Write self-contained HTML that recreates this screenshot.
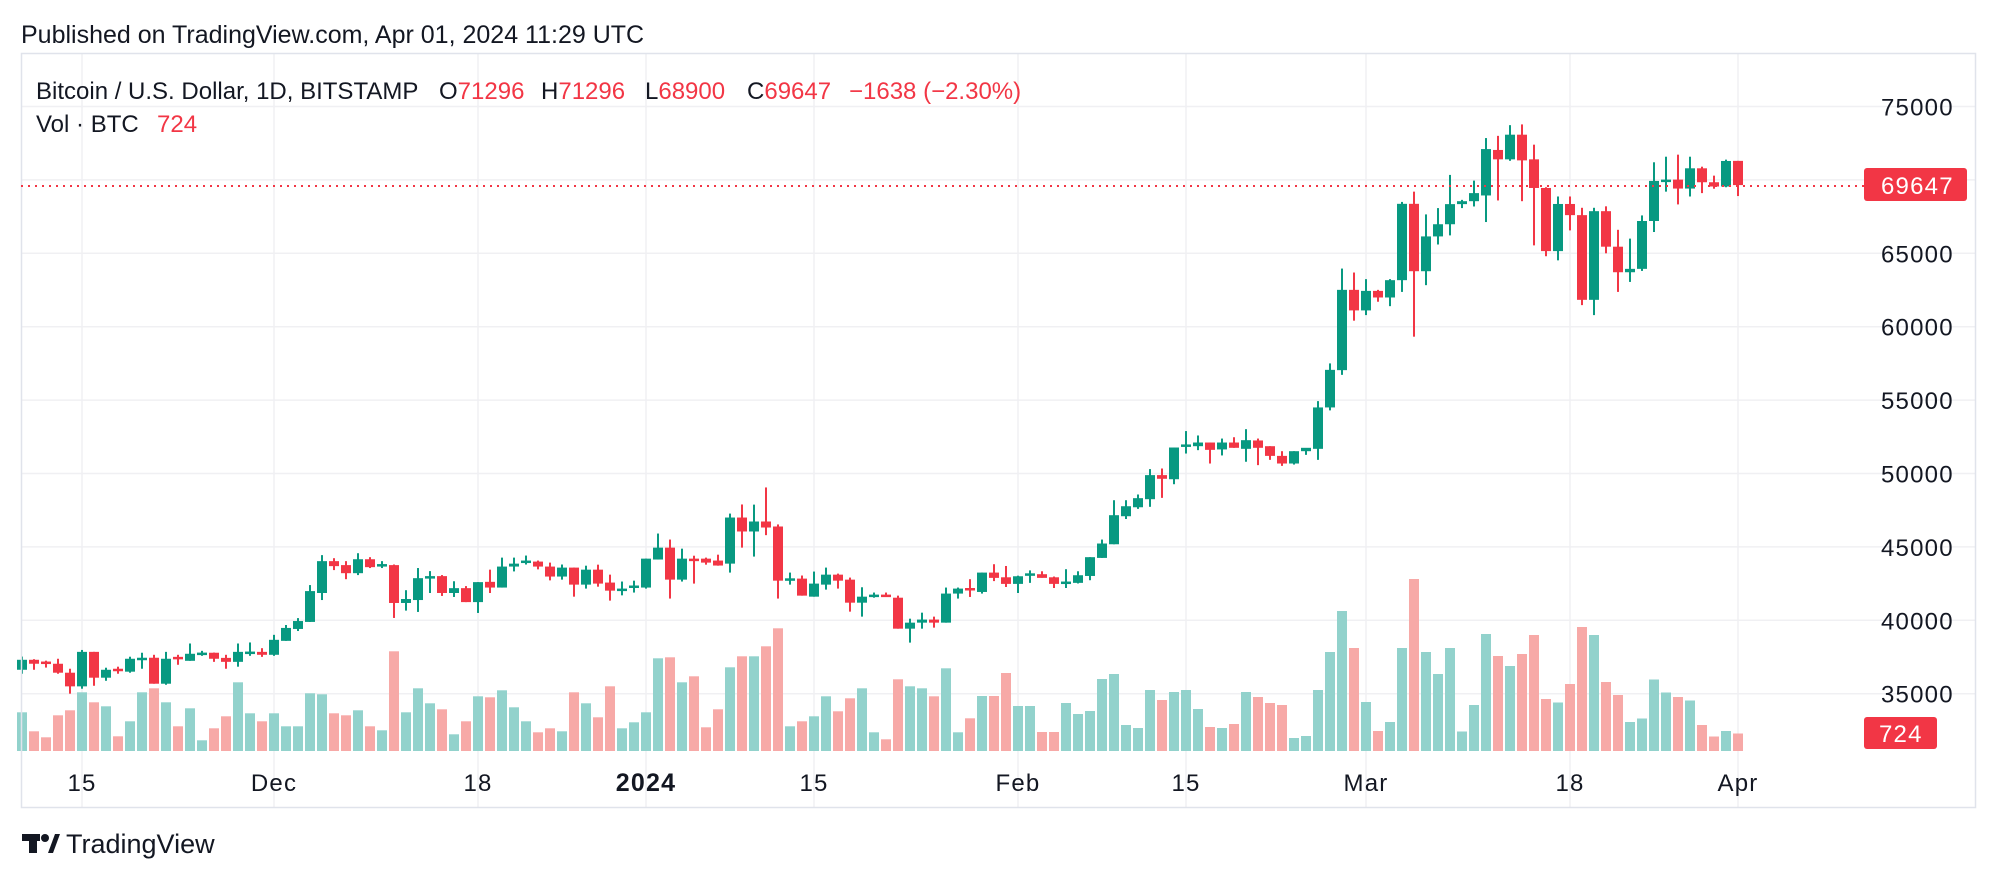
<!DOCTYPE html>
<html><head><meta charset="utf-8">
<style>
html,body{margin:0;padding:0;background:#fff;}
body{width:1996px;height:878px;overflow:hidden;font-family:"Liberation Sans",Arial,sans-serif;}
svg text{font-family:"Liberation Sans",Arial,sans-serif;}
</style></head>
<body>
<svg id="c" width="1996" height="878" viewBox="0 0 1996 878" xmlns="http://www.w3.org/2000/svg">
<rect width="1996" height="878" fill="#fff"/>
<text x="21" y="43" font-size="25" fill="#131722">Published on TradingView.com, Apr 01, 2024 11:29 UTC</text>
<g id="grid"></g>
<g id="vol"></g>
<g id="cand"></g>
<rect x="21.5" y="53.5" width="1954" height="754" fill="none" stroke="#e0e3eb" stroke-width="1.5"/>
<line x1="21" y1="186" x2="1864" y2="186" stroke="#F23645" stroke-width="2" stroke-dasharray="2,5"/>
<g font-size="24" fill="#131722">
<text x="36" y="99">Bitcoin / U.S. Dollar, 1D, BITSTAMP</text>
<text x="439" y="99">O<tspan fill="#F23645">71296</tspan></text>
<text x="541" y="99">H<tspan fill="#F23645">71296</tspan></text>
<text x="645" y="99">L<tspan fill="#F23645">68900</tspan></text>
<text x="747" y="99">C<tspan fill="#F23645">69647</tspan></text>
<text x="849" y="99" fill="#F23645">−1638 (−2.30%)</text>
<text x="36" y="132">Vol · BTC</text>
<text x="157" y="132" fill="#F23645">724</text>
</g>
<g id="axis" font-size="24" fill="#131722" letter-spacing="1.2"></g>
<rect x="1864" y="168" width="103" height="33" rx="3" fill="#F23645"/>
<text x="1881" y="194" font-size="24" fill="#fff" letter-spacing="1.2">69647</text>
<rect x="1864" y="717" width="73" height="32" rx="3" fill="#F23645"/>
<text x="1879" y="742" font-size="24" fill="#fff" letter-spacing="1.2">724</text>
<g fill="#131722">
<rect x="22" y="834" width="18" height="7"/>
<rect x="29" y="834" width="8" height="19"/>
<circle cx="45" cy="838" r="4"/>
<polygon points="48,853 55,834 60,834 53,853"/>
</g>
<text x="66" y="853" font-size="27" fill="#131722">TradingView</text>
</svg>
<script>
var D=[
[36630,37530,36360,37310,38.7],[37310,37350,36630,37040,19.7],[37190,37250,36780,37040,13.7],[37040,37380,36360,36430,35.7],[36430,36700,35000,35500,40.7],
[35500,37980,35340,37850,58.7],[37850,37850,35540,36090,48.7],[36090,36770,35880,36630,44.7],[36700,36840,36360,36570,14.7],[36500,37520,36430,37380,29.7],
[37400,37790,36700,37450,58.7],[37450,37650,35680,35680,62.7],[35680,37850,35610,37380,48.7],[37510,37650,36970,37440,24.7],[37240,38420,37240,37720,42.7],
[37760,37920,37580,37800,10.7],[37790,37800,37170,37380,22.7],[37440,37650,36700,37170,34.7],[37170,38420,36840,37850,68.7],[37840,38490,37580,37870,37.7],
[37850,38100,37510,37650,29.7],
[37650,39010,37580,38670,37.7],[38600,39680,38600,39480,24.7],[39410,40150,39270,39950,24.7],[39890,42400,39890,41990,57.7],[41860,44440,41380,44030,56.7],
[44030,44230,43420,43690,37.7],[43760,44030,42800,43210,35.7],[43210,44570,43080,44160,40.7],[44160,44300,43560,43620,24.7],[43760,44030,43560,43830,20.7],
[43760,43800,40160,41180,99.7],[41180,42050,40660,41450,38.7],[41380,43560,40570,42870,62.7],[42950,43350,41860,43010,47.7],[43010,43080,41660,41860,41.7],
[41860,42660,41590,42190,16.7],[42190,42330,41240,41240,29.7],[41240,42600,40500,42600,54.7],[42620,43450,41860,42230,53.7],[42230,44270,42230,43660,60.7],
[43660,44270,43330,43860,43.7],[44000,44410,43800,44070,29.7],[44000,44070,43470,43660,18.7],[43660,43930,42720,42980,22.7],[42980,43800,42770,43590,19.7],
[43590,43590,41610,42430,58.7],[42430,43720,42160,43450,47.7],[43450,43790,42290,42500,33.7],[42570,43110,41340,42020,64.7],[42100,42640,41700,42160,22.7],
[42230,42700,41890,42370,28.7],
[42230,44200,42160,44200,38.7],[44140,45910,44140,44950,92.7],[44950,45500,41480,42770,93.7],[42770,44880,42640,44200,68.7],[44200,44400,42500,44140,74.7],
[44200,44270,43790,43930,23.7],[44070,44470,43720,43730,41.7],[43860,47270,43250,47000,83.7],[47000,47890,44950,46050,94.7],[46050,47880,44340,46730,94.7],
[46730,49050,45800,46320,104.7],[46390,46530,41480,42700,122.7],[42790,43250,42430,42860,24.7],[42840,43050,41680,41680,29.7],[41610,43320,41610,42500,34.7],
[42430,43590,42090,43110,54.7],[43110,43180,42160,42700,39.7],[42770,42910,40590,41200,52.7],[41200,42250,40250,41610,62.7],[41700,41890,41540,41750,18.7],
[41750,41890,41610,41680,11.7],[41540,41680,39430,39430,71.7],[39430,40110,38480,39840,64.7],[39840,40520,39430,40050,62.7],[40050,40250,39500,39840,54.7],
[39840,42230,39840,41820,82.7],[41820,42230,41480,42160,18.7],[42200,42800,41590,42130,32.7],[41930,43250,41820,43250,55],[43250,43820,42670,42890,55],
[42930,43700,42270,42480,78],
[42480,43040,41860,43000,45],[43100,43400,42550,43200,45],[43140,43340,42900,42890,19],[42930,42980,42200,42480,19],[42560,43480,42200,42640,48],
[42550,43340,42510,43070,37],[43020,44300,42730,44300,40],[44250,45500,44250,45230,72],[45180,48180,45180,47160,77],[47090,48180,46900,47770,26],
[47700,48570,47590,48320,23],[48250,50300,47730,49890,61],[49890,50340,48340,49640,51],[49610,51770,49270,51770,59],[51920,52890,51360,51980,61],
[51860,52590,51590,52110,42],[52110,52110,50680,51610,24],[51640,52380,51230,52110,23],[52110,52470,51750,51750,27],[51680,53020,50800,52270,59],
[52250,52380,50570,51750,54],[51860,51860,50930,51200,48],[51200,51520,50520,50680,46],[50680,51520,50610,51520,13],[51520,51700,51270,51750,15],
[51680,54930,50930,54500,61],[54500,57500,54300,57060,99],[57040,63960,56720,62510,140],[62510,63690,60410,61110,103],
[61110,63240,60790,62440,49],[62440,62510,61700,61990,20],[61990,63240,61400,63170,29],[63170,68500,62370,68370,103],[68370,69200,59320,63780,172],
[63780,67650,62830,66150,99],[66150,68080,65600,66980,77],[66980,70340,66220,68350,103],[68350,68640,68080,68550,19.5],[68550,69950,68190,69100,46],
[68940,72850,67130,72100,117],[72040,73000,68600,71400,95],[71400,73730,71300,73080,85],[73080,73780,68550,71330,97],[71400,72400,65540,69450,116],
[69450,69500,64800,65150,52],[65150,68870,64520,68360,48.5],[68360,68870,66560,67600,67],[67600,68100,61470,61830,124],[61830,68100,60790,67870,116],
[67870,68200,65000,65450,69],[65450,66600,62370,63710,56],[63710,66000,63050,63940,29],[63940,67580,63800,67200,32.5],[67200,71200,66450,69930,71.5],
[69930,71580,69200,70020,58.5],[70020,71720,68330,69410,54],[69410,71580,68870,70790,50.5],[70790,70900,69100,69840,26],[69840,70290,69400,69550,14.5],
[69550,71380,69500,71290,20],[71296,71296,68900,69647,17.5]];
var NS="http://www.w3.org/2000/svg";
function el(t,a,p){var e=document.createElementNS(NS,t);for(var k in a)e.setAttribute(k,a[k]);if(p)p.appendChild(e);return e;}
function Y(p){return 473.5+(50000-p)*0.01468;}
function X(d){return 82+12*d;}
var g=document.getElementById('grid'),v=document.getElementById('vol'),c=document.getElementById('cand'),ax=document.getElementById('axis');
for(var p=35000;p<=75000;p+=5000){var y=Y(p);el('line',{x1:21,y1:y,x2:1975,y2:y,stroke:'#f0f0f3','stroke-width':1.5},g);
 var t=el('text',{x:1881,y:y+9},ax);t.textContent=p;}
var T=[[0,'15'],[16,'Dec'],[33,'18'],[47,'2024'],[61,'15'],[78,'Feb'],[92,'15'],[107,'Mar'],[124,'18'],[138,'Apr']];
T.forEach(function(o){var x=X(o[0]);el('line',{x1:x,y1:54,x2:x,y2:807,stroke:'#f0f0f3','stroke-width':1.5},g);
 var t=el('text',{x:x,y:791,'text-anchor':'middle'},ax);if(o[1]=='2024'){t.setAttribute('font-weight','bold');t.setAttribute('font-size','25');}t.textContent=o[1];});
D.forEach(function(r,i){var d=i-5,x=X(d),up=r[3]>=r[0];
 var col=up?'#089981':'#F23645',vc=up?'#92D2CC':'#F7A9A7';
 el('rect',{x:x-5,y:751-r[4],width:10,height:r[4],fill:vc},v);
 el('rect',{x:x-1,y:Y(r[1]),width:2,height:Math.max(1,Y(r[2])-Y(r[1])),fill:col},c);
 var t=Math.min(Y(r[0]),Y(r[3])),h=Math.max(2.5,Math.abs(Y(r[0])-Y(r[3])));
 el('rect',{x:x-5,y:t,width:10,height:h,fill:col},c);});
</script>
</body></html>
